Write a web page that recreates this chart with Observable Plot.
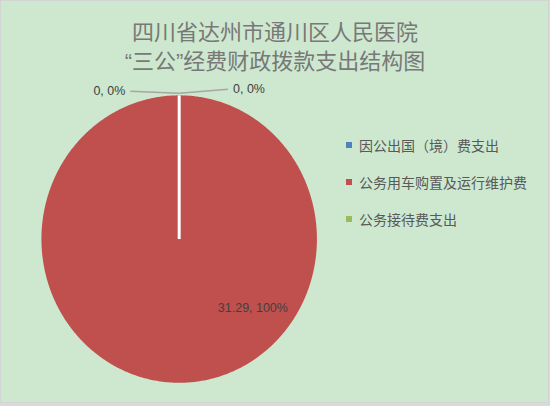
<!DOCTYPE html>
<html><head><meta charset="utf-8">
<script src="https://cdn.jsdelivr.net/npm/d3@7"></script>
<script src="https://cdn.jsdelivr.net/npm/@observablehq/plot@0.6"></script>
<style>
html,body{margin:0;padding:0;background:#d9d9d9;}
#chart{position:relative;width:549px;height:403px;background:#cde8cf;border:1px solid #d4d4d4;box-sizing:border-box;overflow:hidden;font-family:"Noto Sans CJK SC","Noto Sans",sans-serif;}
#title{position:absolute;left:0;width:548px;top:17px;text-align:center;color:#787878;font-size:22px;line-height:29px;font-family:"Liberation Sans","Noto Sans CJK SC",sans-serif;}
#legend{position:absolute;left:345px;top:134px;}
.li{display:flex;align-items:center;height:20px;margin-bottom:17px;color:#595959;font-size:14px;}
.sw{width:6px;height:6px;margin-right:7px;}
#plot{position:absolute;left:0;top:0;}
</style></head><body>
<div id="chart"><div id="plot"></div><div id="title"></div><div id="legend"></div></div>
<script>
const categories = ["因公出国（境）费支出", "公务用车购置及运行维护费", "公务接待费支出"];
const values = [0, 31.29, 0];
const colors = ["#4f81bd", "#c0504d", "#9bbb59"];
const titleLines = ["四川省达州市通川区人民医院", "“三公”经费财政拨款支出结构图"];

const total = d3.sum(values);
const arcs = d3.pie().sort(null).value(d => d)(values);
const slices = arcs.map((a, i) => ({name: categories[i], value: values[i], color: colors[i], start: a.startAngle, end: a.endAngle}));

// polygon points for each slice (angles clockwise from 12 o'clock)
const pts = [];
for (const s of slices) {
  if (s.end - s.start <= 0) continue;
  pts.push({name: s.name, x: 0, y: 0});
  const n = Math.max(2, Math.ceil((s.end - s.start) / (Math.PI / 360)));
  for (let k = 0; k <= n; k++) {
    const t = s.start + (s.end - s.start) * k / n;
    pts.push({name: s.name, x: Math.sin(t), y: Math.cos(t)});
  }
  pts.push({name: s.name, x: 0, y: 0});
}

// labels (Excel-like placement)
const fmtPct = d3.format(".0%");
let zeroIdx = 0;
const labels = slices.map(s => {
  const text = `${s.value}, ${fmtPct(total ? s.value / total : 0)}`;
  const mid = (s.start + s.end) / 2;
  if (s.end - s.start <= 0) {
    const side = zeroIdx++ === 0 ? -1 : 1;
    const ex = Math.sin(mid), ey = Math.cos(mid);
    return {text, zero: true, side, x0: ex, y0: ey * 1.014, x1: side * 0.355, y1: side < 0 ? 1.028 : 1.042};
  }
  const a = 132 * Math.PI / 180, r = 0.72;
  return {text, zero: false, x1: r * Math.sin(a), y1: r * Math.cos(a)};
});
const zl = labels.filter(d => d.zero);
const zLeft = zl.filter(d => d.side < 0);
const zRight = zl.filter(d => d.side > 0);
const bl = labels.filter(d => !d.zero);
const lf = "Liberation Sans, sans-serif";

const plot = Plot.plot({
  width: 548, height: 402,
  margin: 0,
  style: {background: "transparent", overflow: "visible"},
  x: {domain: [-1, 1], range: [40, 316], axis: null},
  y: {domain: [-1, 1], range: [382, 94], axis: null},
  marks: [
    Plot.line(pts, {x: "x", y: "y", z: "name", fill: d => slices.find(s => s.name === d.name).color, stroke: "none", curve: "linear"}),
    Plot.link(slices.filter(s => s.value > 0), {x1: () => 0, y1: () => 0, x2: s => Math.sin(s.start), y2: s => Math.cos(s.start), stroke: "white", strokeWidth: 3}),
    Plot.link(zl, {x1: "x0", y1: "y0", x2: "x1", y2: "y1", stroke: "#a6a6a6", strokeWidth: 1.5}),
    Plot.text(zLeft, {x: "x1", y: "y1", text: "text", dx: -5, textAnchor: "end", fill: "#404040", fontSize: 12.5, fontFamily: lf}),
    Plot.text(zRight, {x: "x1", y: "y1", text: "text", dx: 5, textAnchor: "start", fill: "#404040", fontSize: 12.5, fontFamily: lf}),
    Plot.text(bl, {x: "x1", y: "y1", text: "text", fill: "#404040", fontSize: 12.5, fontFamily: lf})
  ]
});
document.getElementById("plot").appendChild(plot);

document.getElementById("title").innerHTML = titleLines.map(t => `<div>${t}</div>`).join("");
document.getElementById("legend").innerHTML = categories.map((c, i) =>
  `<div class="li"><div class="sw" style="background:${colors[i]}"></div><span>${c}</span></div>`).join("");
</script>
</body></html>
